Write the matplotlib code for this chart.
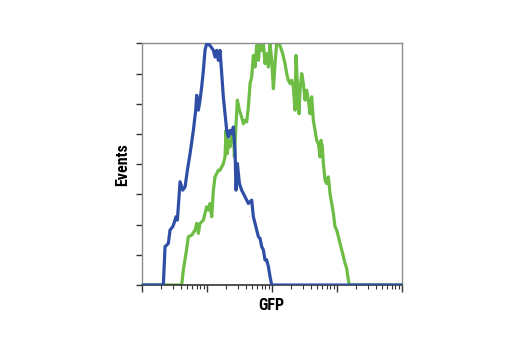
"""Histogram chồng GFP: hai quần thể tế bào (xanh dương / xanh lá)."""

import matplotlib
matplotlib.use("Agg")
import matplotlib.pyplot as plt
import numpy as np
from matplotlib.ticker import LogLocator, NullFormatter

# vị trí theo log10 (số thập phân) và số event (theo đơn vị tick trục y, 0..8)
blue_log = [0.0, 0.333, 0.359, 0.385, 0.410, 0.436, 0.477, 0.497, 0.528, 0.549, 0.590, 0.631,
            0.667, 0.703, 0.744, 0.795, 0.831, 0.846, 0.872, 0.897, 0.923, 0.949, 0.974, 1.000,
            1.051, 1.103, 1.128, 1.154, 1.179, 1.205, 1.231, 1.256, 1.282, 1.308, 1.333, 1.359,
            1.385, 1.410, 1.436, 1.451, 1.472, 1.503, 1.538, 1.590, 1.641, 1.692, 1.718, 1.744,
            1.769, 1.795, 1.821, 1.846, 1.872, 1.897, 1.923, 1.949, 1.974, 2.000, 4.0]
blue_events = [0.0, 0.0, 1.27, 1.32, 1.38, 1.82, 1.93, 2.04, 2.26, 2.15, 3.42, 3.14,
               3.25, 3.80, 4.35, 5.12, 5.79, 6.28, 5.79, 6.12, 6.56, 7.11, 7.77, 8.0,
               7.93, 7.77, 7.55, 7.77, 7.44, 7.77, 7.00, 6.23, 5.67, 5.12, 4.90, 5.12,
               5.01, 5.23, 4.46, 3.14, 4.02, 3.36, 3.14, 2.92, 2.70, 2.81, 2.26, 2.04,
               1.82, 1.60, 1.54, 1.27, 1.16, 0.83, 0.83, 0.61, 0.28, 0.0, 0.0]

green_log = [0.0, 0.615, 0.641, 0.682, 0.718, 0.769, 0.821, 0.846, 0.872, 0.897, 0.949, 0.974,
             1.000, 1.026, 1.051, 1.077, 1.103, 1.128, 1.154, 1.179, 1.205, 1.231, 1.256, 1.282,
             1.297, 1.318, 1.333, 1.359, 1.385, 1.410, 1.426, 1.451, 1.472, 1.503, 1.538, 1.564,
             1.590, 1.615, 1.641, 1.667, 1.692, 1.718, 1.744, 1.769, 1.795, 1.821, 1.846, 1.872,
             1.897, 1.923, 1.949, 1.974, 2.000, 2.026, 2.051, 2.077, 2.128, 2.169, 2.205, 2.231,
             2.256, 2.282, 2.308, 2.333, 2.359, 2.374, 2.395, 2.421, 2.436, 2.462, 2.487, 2.513,
             2.538, 2.564, 2.590, 2.615, 2.641, 2.667, 2.692, 2.718, 2.744, 2.759, 2.779, 2.795,
             2.821, 2.846, 2.872, 2.897, 2.923, 2.949, 2.974, 3.000, 3.026, 3.051, 3.077, 3.103,
             3.128, 3.154, 3.179, 3.195, 4.0]
green_events = [0.0, 0.0, 0.50, 1.05, 1.60, 1.65, 1.82, 2.04, 1.71, 2.04, 2.15, 2.37,
                2.59, 2.48, 2.70, 2.26, 3.14, 3.58, 3.69, 3.80, 3.80, 3.91, 4.02, 4.24,
                5.12, 4.35, 4.79, 4.57, 5.01, 5.12, 4.24, 5.34, 6.12, 5.79, 5.56, 5.34,
                5.45, 5.40, 5.90, 6.67, 6.89, 7.60, 7.22, 7.93, 7.44, 8.0, 7.77, 8.0,
                7.33, 7.66, 7.22, 8.0, 7.44, 6.50, 7.33, 8.0, 7.93, 7.66, 7.33, 7.00,
                6.78, 6.67, 6.78, 6.56, 5.79, 7.60, 6.67, 5.67, 6.45, 7.00, 6.67, 6.12,
                6.45, 6.12, 5.67, 6.23, 5.45, 5.12, 4.79, 4.68, 4.24, 4.79, 4.57, 4.02,
                3.47, 3.36, 3.58, 3.03, 2.70, 2.37, 1.93, 1.82, 1.60, 1.38, 1.16, 0.94,
                0.72, 0.55, 0.17, 0.0, 0.0]

BLUE = "#2f4fa6"
GREEN = "#6dbd45"

fig = plt.figure(figsize=(5.2, 3.5), dpi=100)
ax = fig.add_axes([0.2725, 0.1857, 0.5, 0.6903])

ax.plot(10 ** np.array(green_log), green_events, color=GREEN, lw=2.3, zorder=2)
ax.plot(10 ** np.array(blue_log), blue_events, color=BLUE, lw=2.3, zorder=3)

ax.set_xscale("log")
ax.set_xlim(1, 1e4)
ax.set_ylim(0, 8)

ax.xaxis.set_major_locator(LogLocator(base=10, numticks=10))
ax.xaxis.set_minor_locator(LogLocator(base=10, subs=np.arange(2, 10), numticks=10))
ax.xaxis.set_major_formatter(NullFormatter())
ax.xaxis.set_minor_formatter(NullFormatter())
ax.set_yticks(range(0, 9))
ax.set_yticklabels([])

ax.tick_params(axis="x", which="major", direction="out", length=5, width=1.0, color="#333333")
ax.tick_params(axis="x", which="minor", direction="out", length=3, width=0.8, color="#333333")
ax.tick_params(axis="y", direction="out", length=4, width=1.0, color="#333333")

for side in ["top", "right", "left"]:
    ax.spines[side].set_color("#8a8a8a")
    ax.spines[side].set_linewidth(1.0)
ax.spines["bottom"].set_color("#333333")
ax.spines["bottom"].set_linewidth(1.2)

label_font = dict(family=["Roboto Condensed", "Liberation Sans Narrow", "Roboto"],
                  fontweight="bold", fontsize=11.5)
ax.set_xlabel("GFP", labelpad=1, **label_font)
ax.set_ylabel("Events", labelpad=1, **label_font)

fig.savefig("out.png", dpi=100)
